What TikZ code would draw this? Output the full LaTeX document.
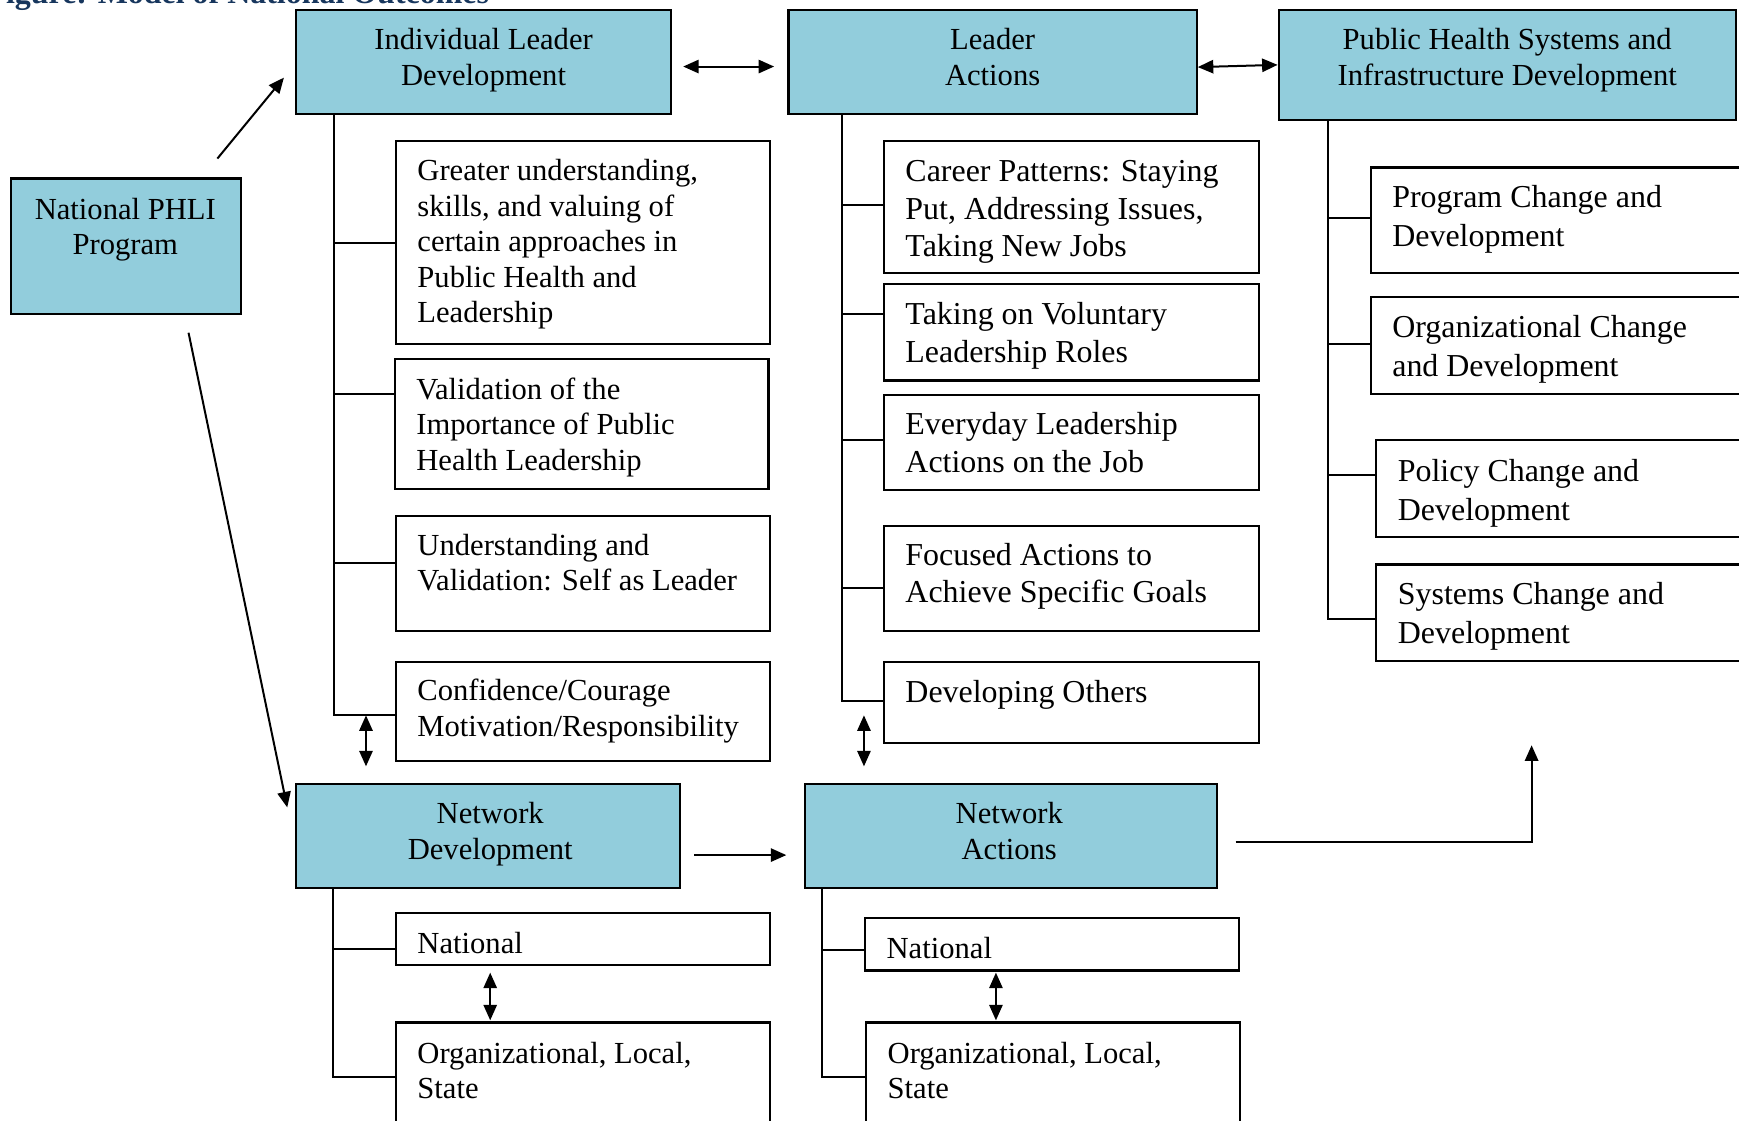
\documentclass[tikz,border=0pt]{standalone}
\usepackage{fontspec}
\setmainfont{Liberation Serif}
\usetikzlibrary{arrows.meta,fit}
\definecolor{hdrfill}{HTML}{92CDDC}
\definecolor{ttl}{HTML}{17365D}
\begin{document}
\begin{tikzpicture}[x=0.5pt,y=-0.5pt,
  fA/.style={font=\fontsize{13.8}{16}\selectfont},
  fB/.style={font=\fontsize{14.4}{17}\selectfont},
  fC/.style={font=\fontsize{14.4}{17.5}\selectfont},
  hdr/.style={draw=black, line width=1pt, fill=hdrfill, inner sep=0pt},
  wbox/.style={draw=black, line width=1pt, fill=white, inner sep=0pt},
  txt/.style={anchor=north west, inner sep=0pt, align=left},
  ctxt/.style={anchor=north, inner sep=0pt, align=center, fA},
  conn/.style={line width=0.9pt},
  arr/.style={conn, -{Triangle[length=7pt,width=6pt]}},
  darr/.style={conn, {Triangle[length=7pt,width=6pt]}-{Triangle[length=7pt,width=6pt]}}]
\useasboundingbox (0,0) rectangle (1568,1010);
\clip (0,0) rectangle (1568,1010);

% title (cut off at the top, as in the source)
\node[anchor=base west, inner sep=0pt, font=\fontsize{14.4}{17}\selectfont\bfseries, text=ttl] (title) at (-12.5,3) {Figure: Model of National Outcomes};

% header boxes
\node[hdr, fit={(267,9) (605,103)}] (ild) {};
\node[hdr, fit={(711,9) (1079,103)}] (la) {};
\node[hdr, fit={(1153,9) (1565,108)}] (phs) {};
\node[hdr, fit={(10,161) (217,283)}] (np) {};
\node[hdr, fit={(267,707) (613,801)}] (nd) {};
\node[hdr, fit={(726,707) (1097,801)}] (na) {};

\node[ctxt] (ildt) at (436,22) {\strut Individual Leader\\Development};
\node[ctxt] (lat) at (895,22) {\strut Leader\\Actions};
\node[ctxt] (phst) at (1359,22) {\strut Public Health Systems and\\Infrastructure Development};
\node[ctxt] (npt) at (113,175) {\strut National PHLI\\Program};
\node[ctxt] (ndt) at (442,720) {\strut Network\\Development};
\node[ctxt] (nat) at (910,720) {\strut Network\\Actions};

% left column
\node[wbox, fit={(357,127) (694,310)}] (g1) {};
\node[wbox, fit={(356,324) (693,441)}] (g2) {};
\node[wbox, fit={(357,465) (694,569)}] (g3) {};
\node[wbox, fit={(357,597) (694,686)}] (g4) {};
\node[txt, fA] (g1t) at (376,140) {\strut Greater understanding,\\skills, and valuing of\\certain approaches in\\Public Health and\\Leadership};
\node[txt, fA] (g2t) at (375,337) {\strut Validation of the\\Importance of Public\\Health Leadership};
\node[txt, fA] (g3t) at (376,478) {\strut Understanding and\\Validation: Self as Leader};
\node[txt, fA] (g4t) at (376,609) {\strut Confidence/Courage\\Motivation/Responsibility};

% middle column
\node[wbox, fit={(797,127) (1135,246)}] (c1) {};
\node[wbox, fit={(797,256) (1135,343)}] (c2) {};
\node[wbox, fit={(797,356) (1135,442)}] (c3) {};
\node[wbox, fit={(797,474) (1135,569)}] (c4) {};
\node[wbox, fit={(797,597) (1135,670)}] (c5) {};
\node[txt, fB] (c1t) at (816,139.5) {\strut Career Patterns: Staying\\Put, Addressing Issues,\\Taking New Jobs};
\node[txt, fB] (c2t) at (816,268.5) {\strut Taking on Voluntary\\Leadership Roles};
\node[txt, fB] (c3t) at (816,367.5) {\strut Everyday Leadership\\Actions on the Job};
\node[txt, fB] (c4t) at (816,485.5) {\strut Focused Actions to\\Achieve Specific Goals};
\node[txt, fB] (c5t) at (816,609.5) {\strut Developing Others};

% right column
\node[wbox, fit={(1236,151) (1600,246)}] (p1) {};
\node[wbox, fit={(1236,268) (1600,355)}] (p2) {};
\node[wbox, fit={(1241,397) (1600,484)}] (p3) {};
\node[wbox, fit={(1241,509) (1600,596)}] (p4) {};
\node[txt, fC] (p1t) at (1255,162.5) {\strut Program Change and\\Development};
\node[txt, fC] (p2t) at (1255,279.5) {\strut Organizational Change\\and Development};
\node[txt, fC] (p3t) at (1260,409.5) {\strut Policy Change and\\Development};
\node[txt, fC] (p4t) at (1260,520.5) {\strut Systems Change and\\Development};

% bottom boxes
\node[wbox, fit={(357,823) (694,870)}] (n1) {};
\node[wbox, fit={(357,922) (694,1030)}] (n2) {};
\node[wbox, fit={(780,828) (1117,875)}] (m1) {};
\node[wbox, fit={(781,922) (1118,1030)}] (m2) {};
\node[txt, fA] (n1t) at (376,837) {\strut National};
\node[txt, fA] (n2t) at (376,936) {\strut Organizational, Local,\\State};
\node[txt, fA] (m1t) at (799,841) {\strut National};
\node[txt, fA] (m2t) at (800,936) {\strut Organizational, Local,\\State};

% spines
\coordinate (s1) at (ild.south -| 301,0);
\draw[conn] (s1) |- (g4.west |- 0,645);
\draw[conn] (s1 |- 0,219) -- (g1.west |- 0,219);
\draw[conn] (s1 |- 0,355) -- (g2.west |- 0,355);
\draw[conn] (s1 |- 0,508) -- (g3.west |- 0,508);

\coordinate (s2) at (la.south -| 759,0);
\draw[conn] (s2) |- (c5.west |- 0,632);
\draw[conn] (s2 |- 0,185) -- (c1.west |- 0,185);
\draw[conn] (s2 |- 0,283) -- (c2.west |- 0,283);
\draw[conn] (s2 |- 0,397) -- (c3.west |- 0,397);
\draw[conn] (s2 |- 0,530) -- (c4.west |- 0,530);

\coordinate (s3) at (phs.south -| 1197,0);
\draw[conn] (s3) |- (p4.west |- 0,558);
\draw[conn] (s3 |- 0,197) -- (p1.west |- 0,197);
\draw[conn] (s3 |- 0,310) -- (p2.west |- 0,310);
\draw[conn] (s3 |- 0,428) -- (p3.west |- 0,428);

\coordinate (s4) at (nd.south -| 300,0);
\draw[conn] (s4) |- (n2.west |- 0,971);
\draw[conn] (s4 |- 0,856) -- (n1.west |- 0,856);

\coordinate (s5) at (na.south -| 741,0);
\draw[conn] (s5) |- (m2.west |- 0,971);
\draw[conn] (s5 |- 0,857) -- (m1.west |- 0,857);

% arrows
\coordinate (a1s) at (196,143);
\coordinate (a1e) at (256,70);
\draw[arr] (a1s) -- (a1e);
\coordinate (a2s) at (170,300);
\coordinate (a2e) at (259,728);
\draw[arr] (a2s) -- (a2e);

\draw[darr, shorten <=5pt, shorten >=6pt] (ild.east |- 0,60) -- (la.west |- 0,60);
\draw[darr] (la.east |- 0,60.5) -- (phs.west |- 0,58.5);

\coordinate (d1a) at (330,645);
\coordinate (d1b) at (330,691);
\draw[darr] (d1a) -- (d1b);
\coordinate (d2a) at (779,645);
\coordinate (d2b) at (779,691);
\draw[darr] (d2a) -- (d2b);

\draw[arr, shorten <=6pt, shorten >=8pt] (nd.east |- 0,771) -- (na.west |- 0,771);
\coordinate (up1) at (1381,672);
\draw[conn, -{Triangle[length=7pt,width=6pt]}, shorten <=8pt] (na.east |- 0,759) -| (up1);

\draw[darr, shorten <=3pt, shorten >=0.5pt] (n1.south -| 442,0) -- (n2.north -| 442,0);
\draw[darr, shorten <=0.5pt, shorten >=0.5pt] (m1.south -| 898,0) -- (m2.north -| 898,0);
\end{tikzpicture}
\end{document}
